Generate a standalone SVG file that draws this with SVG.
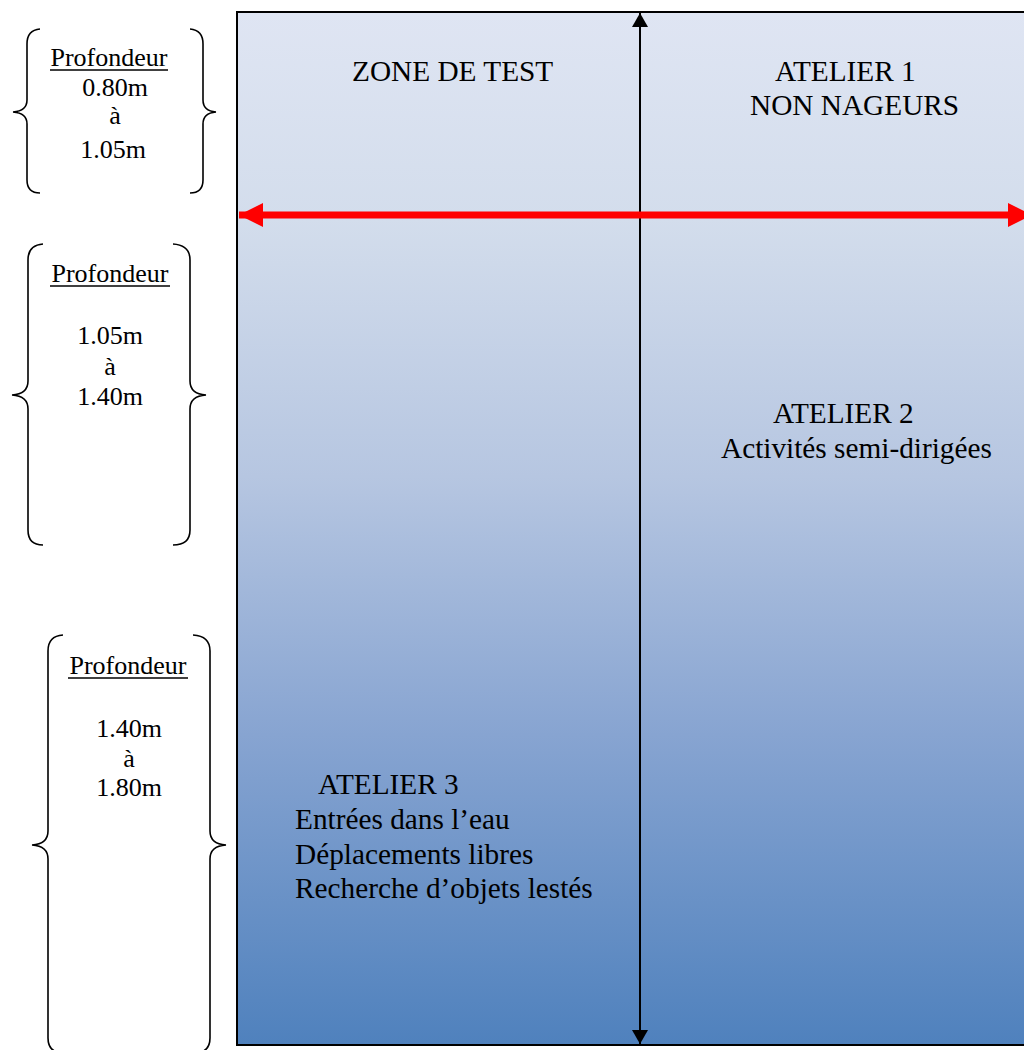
<svg xmlns="http://www.w3.org/2000/svg" width="1024" height="1050" viewBox="0 0 1024 1050">
<defs>
<linearGradient id="pool" x1="0" y1="0" x2="0" y2="1">
<stop offset="0" stop-color="#dfe5f3"/>
<stop offset="0.2" stop-color="#d3ddec"/>
<stop offset="0.45" stop-color="#b6c6e1"/>
<stop offset="0.7" stop-color="#87a4d1"/>
<stop offset="1" stop-color="#4f81bd"/>
</linearGradient>
<marker id="blk" viewBox="0 0 14 16" refX="14" refY="8" markerWidth="14" markerHeight="16" markerUnits="userSpaceOnUse" orient="auto-start-reverse">
<path d="M0,0 L14,8 L0,16 Z" fill="#000"/>
</marker>
<marker id="red" viewBox="0 0 24 24" refX="24" refY="12" markerWidth="24" markerHeight="24" markerUnits="userSpaceOnUse" orient="auto-start-reverse">
<path d="M0,0 L24,12 L0,24 Z" fill="#ff0000"/>
</marker>
</defs>
<style>
.t{font-family:"Liberation Serif","Times New Roman",serif;font-size:29.3px;fill:#000}
.b{font-family:"Liberation Serif","Times New Roman",serif;font-size:26px;fill:#000;text-anchor:middle}
.br{fill:none;stroke:#000;stroke-width:1.6}
.ul{stroke:#000;stroke-width:1.4}
</style>
<rect width="1024" height="1050" fill="#fff"/>
<g id="pool-rect">
<rect x="237" y="12" width="800" height="1033" fill="url(#pool)" stroke="#000" stroke-width="2"/>
</g>
<g id="connectors">
<line x1="640" y1="13" x2="640" y2="1044" stroke="#000" stroke-width="2" marker-start="url(#blk)" marker-end="url(#blk)"/>
<line x1="239" y1="215" x2="1032" y2="215" stroke="#ff0000" stroke-width="7" marker-start="url(#red)" marker-end="url(#red)"/>
</g>
<g id="zone-test"><text class="t" x="352" y="81">ZONE DE TEST</text></g>
<g id="atelier1">
<text class="t" x="775" y="81">ATELIER 1</text>
<text class="t" x="750" y="115">NON NAGEURS</text>
</g>
<g id="atelier2">
<text class="t" x="773" y="423">ATELIER 2</text>
<text class="t" x="721" y="458">Activités semi-dirigées</text>
</g>
<g id="atelier3">
<text class="t" x="318" y="794">ATELIER 3</text>
<text class="t" x="295" y="829">Entrées dans l’eau</text>
<text class="t" x="295" y="864">Déplacements libres</text>
<text class="t" x="295" y="898">Recherche d’objets lestés</text>
</g>
<g id="depth1">
<path class="br" d="M40,29 Q27,30 27,44 L27,100 Q27,111 13,112 Q27,113 27,124 L27,180 Q27,193 40,193"/>
<path class="br" d="M190,29 Q203,30 203,44 L203,100 Q203,111 216,112 Q203,113 203,124 L203,180 Q203,193 190,193"/>
<text class="b" x="109" y="66">Profondeur</text>
<line class="ul" x1="50" y1="70" x2="168" y2="70"/>
<text class="b" x="115" y="96">0.80m</text>
<text class="b" x="115" y="124">à</text>
<text class="b" x="113" y="158">1.05m</text>
</g>
<g id="depth2">
<path class="br" d="M43,244 Q28,245 28,260 L28,381 Q28,394 12,395 Q28,396 28,409 L28,530 Q28,545 43,545"/>
<path class="br" d="M173,244 Q190,245 190,260 L190,381 Q190,394 206,395 Q190,396 190,409 L190,530 Q190,545 173,545"/>
<text class="b" x="110" y="282">Profondeur</text>
<line class="ul" x1="50" y1="286" x2="170" y2="286"/>
<text class="b" x="110" y="344">1.05m</text>
<text class="b" x="110" y="375">à</text>
<text class="b" x="110" y="405">1.40m</text>
</g>
<g id="depth3">
<path class="br" d="M63,635 Q48,636 48,651 L48,831 Q48,844 32,845 Q48,846 48,859 L48,1038 Q48,1052 62,1053"/>
<path class="br" d="M193,635 Q210,636 210,651 L210,831 Q210,844 226,845 Q210,846 210,859 L210,1038 Q210,1052 196,1053"/>
<text class="b" x="128" y="674">Profondeur</text>
<line class="ul" x1="68" y1="678" x2="188" y2="678"/>
<text class="b" x="129" y="737">1.40m</text>
<text class="b" x="129" y="767">à</text>
<text class="b" x="129" y="796">1.80m</text>
</g>
</svg>
